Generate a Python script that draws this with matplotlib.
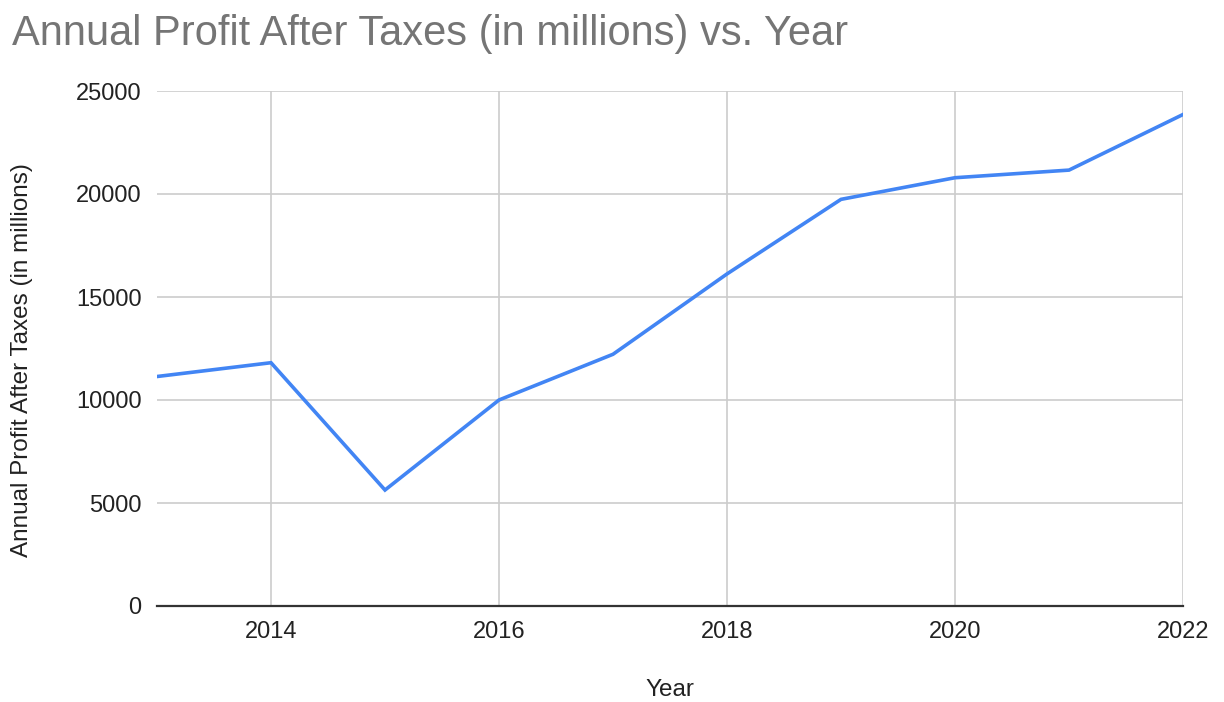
import matplotlib

matplotlib.use("Agg")
import matplotlib.pyplot as plt

years = [2013, 2014, 2015, 2016, 2017, 2018, 2019, 2020, 2021, 2022]
profit = [11140, 11810, 5630, 10000, 12220, 16120, 19740, 20790, 21160, 23860]

x_ticks = [2014, 2016, 2018, 2020, 2022]
y_ticks = [0, 5000, 10000, 15000, 20000, 25000]

plt.rcParams["font.family"] = ["Liberation Sans", "DejaVu Sans"]

W, H = 1224, 702
fig = plt.figure(figsize=(W / 100, H / 100), dpi=100)
ax = fig.add_axes([157 / W, 1 - 606 / H, (1183 - 157) / W, (606 - 91) / H])

ax.plot(years, profit, color="#4285f4", linewidth=2.6, solid_joinstyle="miter", zorder=3)

ax.set_xlim(2013, 2022)
ax.set_ylim(0, 25000)
ax.set_xticks(x_ticks)
ax.set_yticks(y_ticks)
ax.set_xticklabels([str(t) for t in x_ticks], fontsize=17, color="#222222")
ax.set_yticklabels([str(t) for t in y_ticks], fontsize=17, color="#222222")
ax.tick_params(axis="y", length=0, pad=11)
ax.tick_params(axis="x", length=0, pad=11)

ax.grid(True, color="#cccccc", linewidth=1.2)
ax.set_axisbelow(True)
for side in ["top", "left", "right"]:
    ax.spines[side].set_visible(False)
ax.spines["bottom"].set_color("#333333")
ax.spines["bottom"].set_linewidth(1.6)
ax.spines["bottom"].set_zorder(4)

ax.set_xlabel("Year", fontsize=17.5, color="#222222")
ax.set_ylabel("Annual Profit After Taxes (in millions)", fontsize=17.5, color="#222222")
ax.xaxis.set_label_coords((670 - 157) / 1026, (606 - 690) / 515)
ax.xaxis.label.set_va("center")
ax.yaxis.set_label_coords((22 - 157) / 1026, (606 - 360) / 515)
ax.yaxis.label.set_va("center")

fig.text(12 / W, 1 - 45 / H, "Annual Profit After Taxes (in millions) vs. Year",
         fontsize=30, color="#757575", va="baseline", ha="left")

fig.savefig("out.png", dpi=100)
